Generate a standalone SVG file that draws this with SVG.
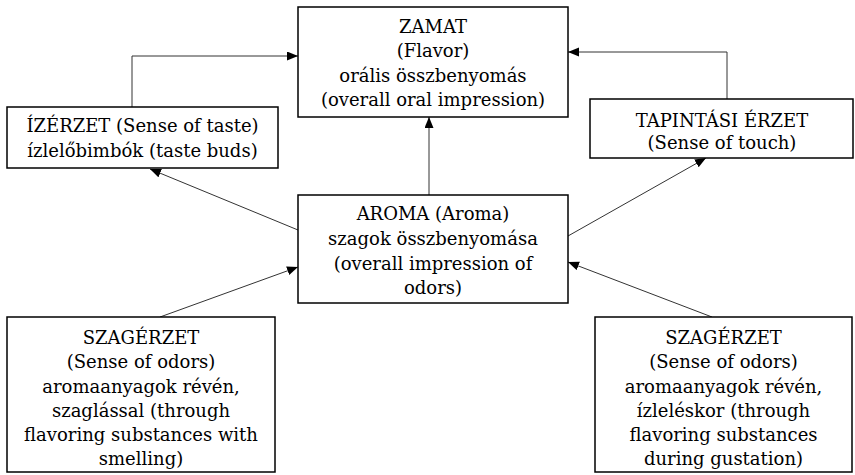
<svg xmlns="http://www.w3.org/2000/svg" width="855" height="475" viewBox="0 0 855 475">
<defs>
<marker id="arr" markerUnits="userSpaceOnUse" markerWidth="12" markerHeight="10" refX="11" refY="4.5" orient="auto">
<path d="M0,0 L11,4.5 L0,9 z" fill="#000"/>
</marker>
<style>
.box{fill:#fff;stroke:#000;stroke-width:1.5}
.t{font-family:"DejaVu Serif","Liberation Serif",serif;font-size:18px;fill:#000;text-anchor:middle}
.c{fill:none;stroke:#333;stroke-width:1;marker-end:url(#arr)}
</style>
</defs>
<rect width="855" height="475" fill="#fff"/>
<g id="connectors">
<polyline class="c" points="132,107 132,56 298,56"/>
<polyline class="c" points="727,99 727,52 568,52"/>
<line class="c" x1="429" y1="195" x2="429" y2="117"/>
<line class="c" x1="298" y1="230" x2="150" y2="169"/>
<line class="c" x1="568" y1="236" x2="706" y2="158"/>
<line class="c" x1="160" y1="317" x2="298" y2="267"/>
<line class="c" x1="712" y1="317" x2="568" y2="262"/>
</g>
<g id="zamat">
<rect class="box" x="298" y="7" width="270" height="110"/>
<text class="t" x="433" y="33">ZAMAT</text>
<text class="t" x="433" y="57">(Flavor)</text>
<text class="t" x="433" y="82">orális összbenyomás</text>
<text class="t" x="433" y="106">(overall oral impression)</text>
</g>
<g id="izerzet">
<rect class="box" x="7" y="107" width="271" height="61"/>
<text class="t" x="142.5" y="132">ÍZÉRZET (Sense of taste)</text>
<text class="t" x="142.5" y="157">ízlelőbimbók (taste buds)</text>
</g>
<g id="tapintasi">
<rect class="box" x="590" y="99" width="263" height="59"/>
<text class="t" x="722" y="127">TAPINTÁSI ÉRZET</text>
<text class="t" x="722" y="149">(Sense of touch)</text>
</g>
<g id="aroma">
<rect class="box" x="298" y="195" width="270" height="108"/>
<text class="t" x="433" y="220">AROMA (Aroma)</text>
<text class="t" x="433" y="245">szagok összbenyomása</text>
<text class="t" x="433" y="270">(overall impression of</text>
<text class="t" x="433" y="294">odors)</text>
</g>
<g id="szag-left">
<rect class="box" x="7" y="317" width="268" height="155"/>
<text class="t" x="141" y="344">SZAGÉRZET</text>
<text class="t" x="141" y="368">(Sense of odors)</text>
<text class="t" x="141" y="393">aromaanyagok révén,</text>
<text class="t" x="141" y="417">szaglással (through</text>
<text class="t" x="141" y="441">flavoring substances with</text>
<text class="t" x="141" y="465">smelling)</text>
</g>
<g id="szag-right">
<rect class="box" x="595" y="317" width="257" height="155"/>
<text class="t" x="723.5" y="344">SZAGÉRZET</text>
<text class="t" x="723.5" y="368">(Sense of odors)</text>
<text class="t" x="723.5" y="393">aromaanyagok révén,</text>
<text class="t" x="723.5" y="417">ízleléskor (through</text>
<text class="t" x="723.5" y="441">flavoring substances</text>
<text class="t" x="723.5" y="465">during gustation)</text>
</g>
</svg>
